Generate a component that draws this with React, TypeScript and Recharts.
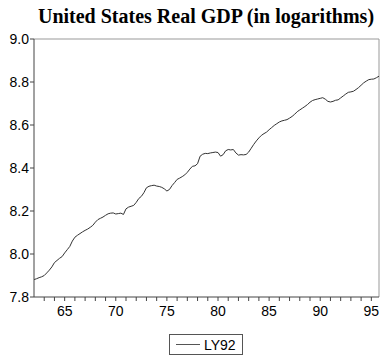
import React from "react";
import { LineChart, Line, XAxis, YAxis, Legend, ReferenceLine } from "recharts";

const seriesName = "LY92";
const firstYear = 62; // 1962Q1
const lastX = 95.75; // 1995Q4
const ly92: number[] = [
  // 1962
  7.881, 7.885, 7.89, 7.894,
  // 1963
  7.9, 7.912, 7.925, 7.94,
  // 1964
  7.96, 7.97, 7.98, 7.988,
  // 1965
  8.005, 8.02, 8.035, 8.06,
  // 1966
  8.078, 8.087, 8.095, 8.103,
  // 1967
  8.11, 8.116, 8.124, 8.133,
  // 1968
  8.148, 8.16, 8.166, 8.172,
  // 1969
  8.18, 8.187, 8.19, 8.191,
  // 1970
  8.186, 8.188, 8.19, 8.184,
  // 1971
  8.21, 8.218, 8.222, 8.226,
  // 1972
  8.24, 8.258, 8.268, 8.285,
  // 1973
  8.308, 8.315, 8.318, 8.32,
  // 1974
  8.316, 8.314, 8.31, 8.303,
  // 1975
  8.293, 8.3, 8.318, 8.332,
  // 1976
  8.347, 8.353, 8.36, 8.368,
  // 1977
  8.38, 8.395, 8.408, 8.41,
  // 1978
  8.42, 8.455, 8.464, 8.468,
  // 1979
  8.467, 8.47, 8.472, 8.474,
  // 1980
  8.472, 8.455, 8.462, 8.48,
  // 1981
  8.486, 8.484, 8.486, 8.47,
  // 1982
  8.46, 8.462, 8.461, 8.463,
  // 1983
  8.474, 8.492, 8.51, 8.526,
  // 1984
  8.54, 8.552, 8.56, 8.567,
  // 1985
  8.578, 8.588, 8.598, 8.606,
  // 1986
  8.614, 8.619, 8.622, 8.625,
  // 1987
  8.632, 8.64, 8.65, 8.662,
  // 1988
  8.67, 8.678, 8.686, 8.695,
  // 1989
  8.706, 8.714, 8.718, 8.721,
  // 1990
  8.724, 8.727, 8.72, 8.71,
  // 1991
  8.707, 8.71, 8.715, 8.717,
  // 1992
  8.726, 8.735, 8.744, 8.752,
  // 1993
  8.754, 8.757, 8.765, 8.774,
  // 1994
  8.785, 8.796, 8.804, 8.811,
  // 1995
  8.813, 8.814, 8.82, 8.827,
];

const xTicks: number[] = [
  63, 64, 65, 66, 67, 68, 69, 70, 71, 72, 73, 74, 75, 76, 77, 78, 79, 80,
  81, 82, 83, 84, 85, 86, 87, 88, 89, 90, 91, 92, 93, 94, 95,
];
const xLabelYears: number[] = [65, 70, 75, 80, 85, 90, 95];
const yTicks: number[] = [7.8, 8.0, 8.2, 8.4, 8.6, 8.8, 9.0];
const yMin = 7.8;
const yMax = 9.0;

const data = ly92.map((v, i) => ({ t: firstYear + i / 4, [seriesName]: v }));

const FONT = "'Liberation Sans', Arial, sans-serif";

const LegendBox = () => (
  <div
    style={{
      marginLeft: 169,
      width: 74,
      height: 21,
      boxSizing: "border-box",
      border: "1px solid #555",
      display: "flex",
      alignItems: "center",
      fontFamily: FONT,
      fontSize: 14,
      color: "#000",
    }}
  >
    <div style={{ width: 24, height: 0, borderTop: "1px solid #555", marginLeft: 6, marginRight: 4 }} />
    <span>{seriesName}</span>
  </div>
);

export default function App() {
  return (
    <div style={{ position: "absolute", left: 0, top: 0, width: 385, height: 358, background: "#fff" }}>
      <div
        style={{
          position: "absolute",
          left: 0,
          top: 5,
          width: 412,
          textAlign: "center",
          fontFamily: "'Liberation Serif', 'Times New Roman', serif",
          fontWeight: "bold",
          fontSize: 20,
          lineHeight: "22px",
          color: "#000",
        }}
      >
        United States Real GDP (in logarithms)
      </div>
      <LineChart
        width={385}
        height={358}
        data={data}
        margin={{ top: 39, right: 6, bottom: 3, left: 0 }}
      >
        <XAxis
          dataKey="t"
          type="number"
          domain={[firstYear, lastX]}
          ticks={xTicks}
          interval={0}
          tickFormatter={(v: number) => (xLabelYears.includes(v) ? String(v) : "")}
          tickSize={4}
          tickMargin={5}
          height={37}
          axisLine={{ stroke: "#444" }}
          tickLine={{ stroke: "#444" }}
          tick={{ fill: "#000", fontSize: 14, fontFamily: FONT }}
        />
        <YAxis
          type="number"
          domain={[yMin, yMax]}
          ticks={yTicks}
          interval={0}
          tickFormatter={(v: number) => v.toFixed(1)}
          tickSize={4}
          tickMargin={1}
          width={34}
          axisLine={{ stroke: "#444" }}
          tickLine={{ stroke: "#444" }}
          tick={{ fill: "#000", fontSize: 14, fontFamily: FONT }}
        />
        <ReferenceLine y={yMax} stroke="#999" strokeWidth={1} ifOverflow="extendDomain" />
        <ReferenceLine x={lastX} stroke="#999" strokeWidth={1} ifOverflow="extendDomain" />
        <Legend verticalAlign="bottom" content={() => <LegendBox />} />
        <Line
          type="linear"
          dataKey={seriesName}
          stroke="#333"
          strokeWidth={1}
          dot={false}
          isAnimationActive={false}
        />
      </LineChart>
    </div>
  );
}
